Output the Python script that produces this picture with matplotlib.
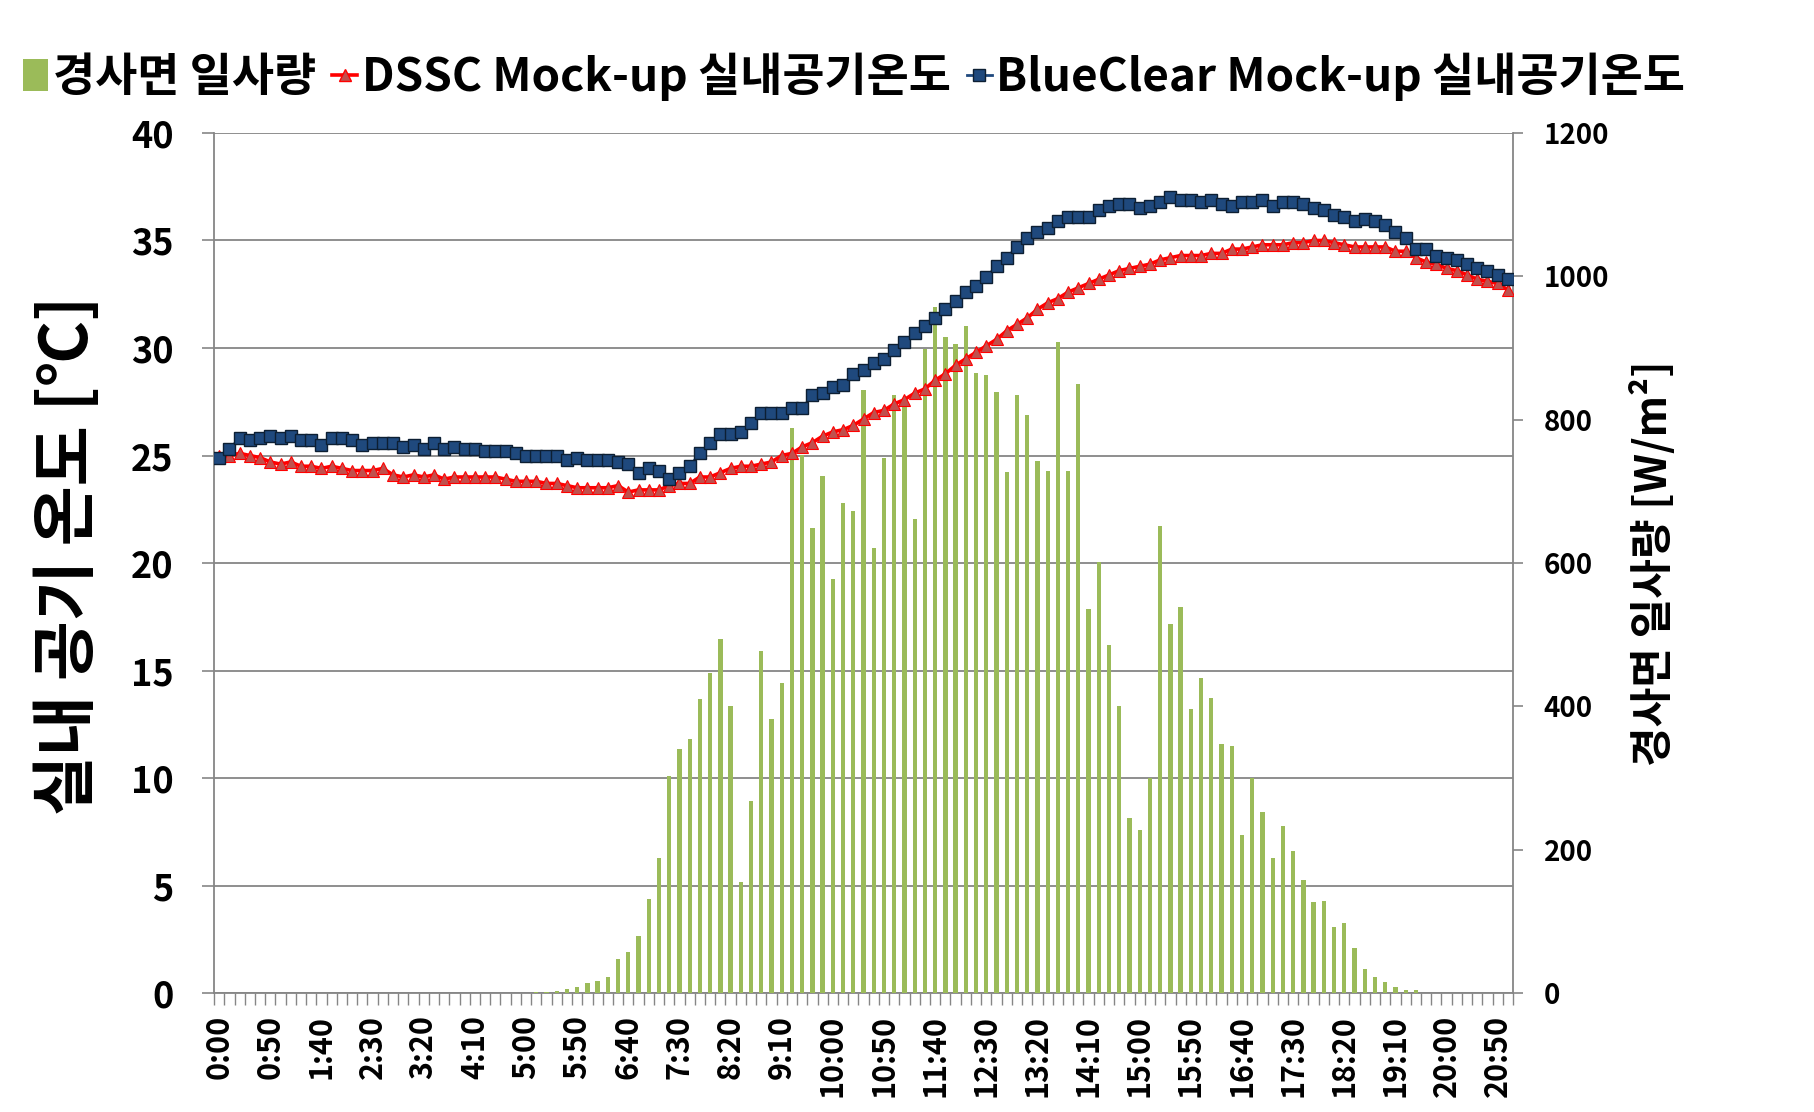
import matplotlib
matplotlib.use('Agg')
import matplotlib.pyplot as plt
from matplotlib.lines import Line2D
from matplotlib.patches import Patch
import numpy as np

plt.rcParams['font.family'] = ['Noto Sans CJK KR', 'DejaVu Sans']

# ---- data ----
times = [f"{m // 60}:{m % 60:02d}" for m in range(0, 1261, 10)]  # 0:00 .. 21:00 (10-min)
tick_labels = ["0:00", "0:50", "1:40", "2:30", "3:20", "4:10", "5:00", "5:50", "6:40",
               "7:30", "8:20", "9:10", "10:00", "10:50", "11:40", "12:30", "13:20",
               "14:10", "15:00", "15:50", "16:40", "17:30", "18:20", "19:10", "20:00", "20:50"]

irradiance = [0] * 31 + [
    1, 2, 3, 5, 9, 14, 17, 22, 47,
    57, 80, 131, 188, 303, 340, 354, 410, 447, 494,
    400, 155, 268, 477, 383, 432, 788, 751, 649, 722,
    577, 684, 672, 842, 621, 747, 834, 824, 661, 898,
    957, 915, 905, 931, 865, 862, 838, 727, 834, 806,
    743, 728, 908, 729, 850, 536, 601, 485, 400, 244,
    227, 300, 651, 515, 538, 396, 439, 411, 347, 344,
    220, 300, 252, 188, 233, 198, 157, 127, 129, 92,
    97, 63, 33, 23, 15, 9, 4, 4, 0, 0,
    0, 0, 0, 0, 0, 0, 0]

dssc = [25.0, 25.0, 25.1, 25.0, 24.9, 24.7, 24.6, 24.7, 24.5, 24.5,
        24.4, 24.5, 24.4, 24.3, 24.3, 24.3, 24.4, 24.1, 24.0, 24.1,
        24.0, 24.1, 23.9, 24.0, 24.0, 24.0, 24.0, 24.0, 23.9, 23.8,
        23.8, 23.8, 23.7, 23.7, 23.6, 23.5, 23.5, 23.5, 23.5, 23.6,
        23.3, 23.4, 23.4, 23.4, 23.6, 23.7, 23.7, 24.0, 24.0, 24.2,
        24.4, 24.5, 24.5, 24.6, 24.7, 25.0, 25.1, 25.4, 25.6, 25.9,
        26.1, 26.2, 26.4, 26.7, 27.0, 27.1, 27.4, 27.6, 27.9, 28.1,
        28.5, 28.8, 29.2, 29.5, 29.8, 30.1, 30.4, 30.8, 31.1, 31.4,
        31.8, 32.1, 32.3, 32.6, 32.8, 33.0, 33.2, 33.4, 33.6, 33.7,
        33.8, 33.9, 34.1, 34.2, 34.3, 34.3, 34.3, 34.4, 34.4, 34.6,
        34.6, 34.7, 34.8, 34.8, 34.8, 34.9, 34.9, 35.0, 35.0, 34.9,
        34.8, 34.7, 34.7, 34.7, 34.7, 34.5, 34.5, 34.2, 34.0, 33.9,
        33.7, 33.6, 33.4, 33.2, 33.1, 33.0, 32.7]

blueclear = [24.9, 25.3, 25.8, 25.7, 25.8, 25.9, 25.8, 25.9, 25.7, 25.7,
             25.5, 25.8, 25.8, 25.7, 25.5, 25.6, 25.6, 25.6, 25.4, 25.5,
             25.3, 25.6, 25.3, 25.4, 25.3, 25.3, 25.2, 25.2, 25.2, 25.1,
             25.0, 25.0, 25.0, 25.0, 24.8, 24.9, 24.8, 24.8, 24.8, 24.7,
             24.6, 24.2, 24.4, 24.3, 23.9, 24.2, 24.5, 25.1, 25.6, 26.0,
             26.0, 26.1, 26.5, 27.0, 27.0, 27.0, 27.2, 27.2, 27.8, 27.9,
             28.2, 28.3, 28.8, 29.0, 29.3, 29.5, 29.9, 30.3, 30.7, 31.0,
             31.4, 31.8, 32.2, 32.6, 32.9, 33.3, 33.8, 34.2, 34.7, 35.1,
             35.4, 35.6, 35.9, 36.1, 36.1, 36.1, 36.4, 36.6, 36.7, 36.7,
             36.5, 36.6, 36.8, 37.0, 36.9, 36.9, 36.8, 36.9, 36.7, 36.6,
             36.8, 36.8, 36.9, 36.6, 36.8, 36.8, 36.7, 36.5, 36.4, 36.2,
             36.1, 35.9, 36.0, 35.9, 35.7, 35.4, 35.1, 34.6, 34.6, 34.3,
             34.2, 34.1, 33.9, 33.7, 33.6, 33.4, 33.2]

series_names = ["경사면 일사량", "DSSC Mock-up 실내공기온도", "BlueClear Mock-up 실내공기온도"]
left_label = "실내 공기 온도 [℃]"
right_label = "경사면 일사량 [W/m²]"

# ---- style ----
GREEN = '#9BBB59'
RED_LINE = '#FF0000'
RED_FILL = '#C0504D'
NAVY = '#1F497D'
GRID = '#868686'
num_font = dict(family=['Noto Sans CJK KR', 'DejaVu Sans'], weight='bold')

fig = plt.figure(figsize=(18.14, 11.12), dpi=100)
ax = fig.add_axes([0.1180, 0.1070, 0.7161, 0.7734])
ax2 = ax.twinx()
ax3 = ax.twinx()

x = np.arange(len(times))

# primary (temperature) axis: grid, left ticks, x ticks
ax.set_xlim(-0.5, len(times) - 0.5)
ax.set_ylim(0, 40)
ax.set_yticks(np.arange(0, 41, 5))
ax.yaxis.grid(True, color=GRID, lw=1.3)
ax.set_axisbelow(True)
for s in ['top', 'right']:
    ax.spines[s].set_visible(False)
for s in ['left', 'bottom']:
    ax.spines[s].set_color(GRID)
    ax.spines[s].set_linewidth(1.3)
ax.tick_params(axis='y', which='major', length=9, width=1.2, color=GRID, pad=20)
ax.set_yticklabels([str(v) for v in range(0, 41, 5)], fontsize=26, **num_font)

major_pos = [times.index(l) for l in tick_labels]
ax.set_xticks(major_pos)
ax.set_xticklabels(tick_labels, rotation=90, fontsize=22, **num_font)
ax.set_xticks(np.arange(-0.5, len(times), 1), minor=True)
ax.tick_params(axis='x', which='major', length=0, pad=16)
ax.tick_params(axis='x', which='minor', length=8.5, width=1.0, color=GRID)

# secondary (irradiance) axis: bars
ax2.bar(x, irradiance, width=0.42, color=GREEN, zorder=2)
ax2.set_ylim(0, 1200)
ax2.set_yticks(np.arange(0, 1201, 200))
ax2.set_yticklabels([str(v) for v in range(0, 1201, 200)], fontsize=20, **num_font)
ax2.tick_params(axis='y', length=7, width=1.2, color=GRID, pad=15)
for s in ['top', 'left', 'bottom']:
    ax2.spines[s].set_visible(False)
ax2.spines['right'].set_color(GRID)
ax2.spines['right'].set_linewidth(1.3)

# lines axis (same scale as temperature)
ax3.set_ylim(0, 40)
ax3.yaxis.set_visible(False)
for s in ax3.spines.values():
    s.set_visible(False)
ax3.plot(x, dssc, color=RED_LINE, lw=2.6, marker='^', ms=8.5,
         mfc=RED_FILL, mec=RED_LINE, mew=0.8, zorder=3)
ax3.plot(x, blueclear, color=NAVY, lw=2.0, marker='s', ms=8,
         mfc=NAVY, mec='#0d1f33', mew=1.0, zorder=4)

# axis titles
fig.text(69 / 1814, 1 - 555 / 1112, left_label, rotation=90, ha='center', va='center',
         fontsize=47, fontweight='bold')
fig.text(1653 / 1814, 1 - 563 / 1112, right_label, rotation=90, ha='center', va='center',
         fontsize=31, fontweight='bold')

# legend
handles = [Patch(facecolor=GREEN, edgecolor='none'),
           Line2D([], [], color=RED_LINE, lw=2.6, marker='^', ms=8.5, mfc=RED_FILL, mec=RED_LINE),
           Line2D([], [], color=NAVY, lw=2.0, marker='s', ms=8, mfc=NAVY, mec='#0d1f33')]
fig.legend(handles, series_names, loc='center left', bbox_to_anchor=(23 / 1814, 1 - 77 / 1112),
           ncol=3, frameon=False, prop=dict(family=['Noto Sans CJK KR', 'DejaVu Sans'],
                                            weight='bold', size=33),
           handlelength=0.55, handleheight=0.7, handletextpad=0.1, columnspacing=0.35,
           borderpad=0, borderaxespad=0)

fig.savefig('out.png', dpi=100)
